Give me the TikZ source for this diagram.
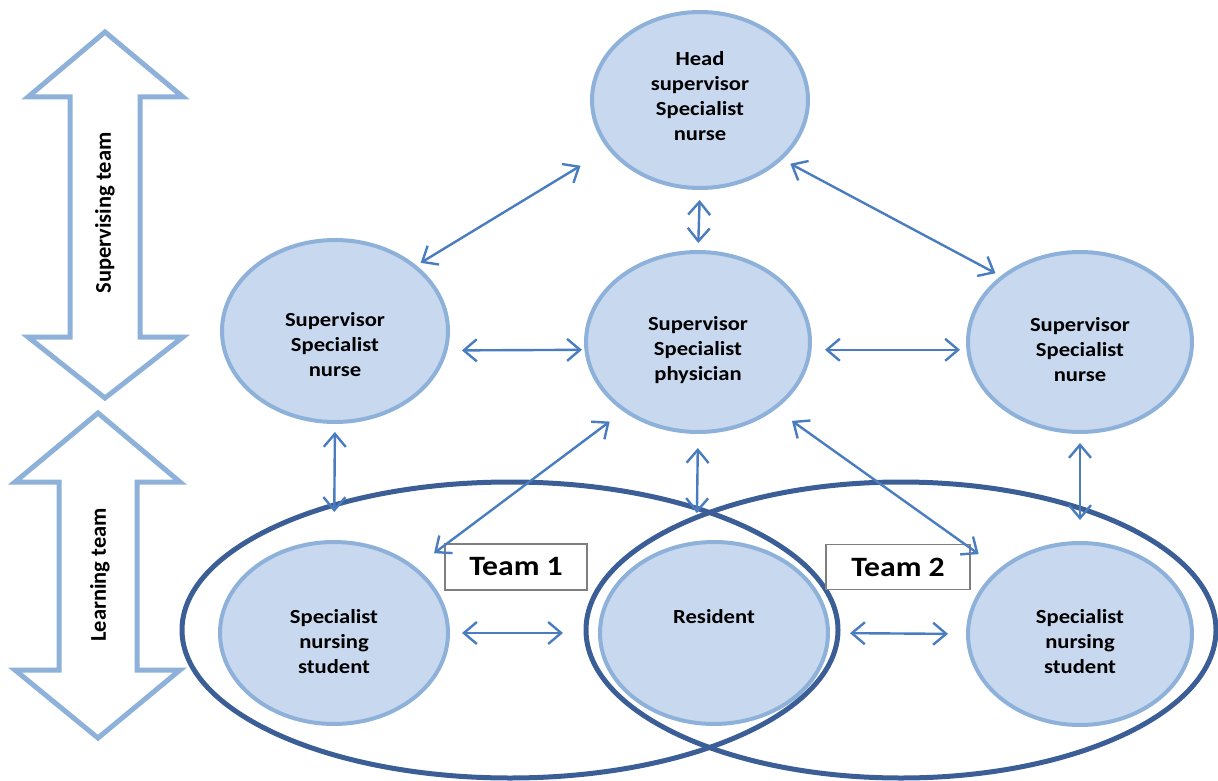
\documentclass[tikz,border=0pt]{standalone}
\usepackage{fontspec}
\setmainfont{Carlito}
\newfontfamily\widefont[FakeStretch=1.13]{Carlito}
\usetikzlibrary{arrows.meta,shapes.geometric}
\definecolor{efill}{HTML}{C7D8EF}
\definecolor{eline}{HTML}{8EB1DA}
\definecolor{tline}{HTML}{3B5E96}
\definecolor{aline}{HTML}{4A7CC0}
\definecolor{bline}{HTML}{7F7F7F}
\begin{document}
\begin{tikzpicture}[x=1pt,y=-1pt,
  role/.style={ellipse, draw=eline, fill=efill, line width=4pt, inner sep=0pt, outer sep=0pt},
  rtext/.style={font=\widefont\fontsize{20}{25}\selectfont\bfseries, align=center, text=black, inner sep=0pt},
  team/.style={ellipse, draw=tline, line width=5pt, inner sep=0pt, outer sep=0pt},
  conn/.style={draw=aline, line width=2.4pt, {Straight Barb[length=13pt,width=22pt]}-{Straight Barb[length=13pt,width=22pt]}},
  teambox/.style={draw=bline, fill=white, line width=1.5pt, minimum width=142pt, minimum height=46pt, inner sep=0pt, font=\widefont\fontsize{28}{32}\selectfont\bfseries},
  sidearrow/.style={draw=eline, fill=white, line width=5pt, line join=miter},
  sidetext/.style={font=\fontsize{22.5}{26}\selectfont\bfseries, rotate=90, inner sep=0pt}
]
\useasboundingbox (0,0) rectangle (1218,781);

% side double arrows
\draw[sidearrow] (105,32) -- (183,97) -- (140,97) -- (140,337) -- (183,337) -- (105,398) -- (28,337) -- (70,337) -- (70,97) -- (28,97) -- cycle;
\draw[sidearrow] (98,413) -- (180,482) -- (137,482) -- (137,670) -- (180,670) -- (98,738) -- (15,670) -- (59,670) -- (59,482) -- (15,482) -- cycle;
\node[sidetext] (supLbl) at (105,213) {Supervising team};
\node[sidetext] (lrnLbl) at (100,575) {Learning team};

% role ellipses
\node[role, minimum width=216pt, minimum height=176pt] (head) at (700,100) {};
\node[role, minimum width=226pt, minimum height=182pt] (supL) at (335,331) {};
\node[role, minimum width=224pt, minimum height=180pt] (phys) at (698,342) {};
\node[role, minimum width=224pt, minimum height=180pt] (supR) at (1080,342) {};
\node[role, minimum width=228pt, minimum height=182pt] (stuL) at (334,633) {};
\node[role, minimum width=228pt, minimum height=182pt] (res) at (714,633) {};
\node[role, minimum width=224pt, minimum height=182pt] (stuR) at (1080,634) {};

% team ellipses
\node[team, minimum width=656pt, minimum height=296pt] (team1) at (510,630) {};
\node[team, minimum width=630pt, minimum height=296pt] (team2) at (901,630) {};

% texts
\node[rtext] (headT) at (700,96) {Head\\supervisor\\Specialist\\nurse};
\node[rtext] (supLT) at (335,345) {Supervisor\\Specialist\\nurse};
\node[rtext] (physT) at (698,350) {Supervisor\\Specialist\\physician};
\node[rtext] (supRT) at (1080,350) {Supervisor\\Specialist\\nurse};
\node[rtext] (stuLT) at (334,642) {Specialist\\nursing\\student};
\node[rtext] (resT) at (714,617) {Resident};
\node[rtext] (stuRT) at (1080,642) {Specialist\\nursing\\student};

% team boxes
\node[teambox] (t1) at (516,567) {Team 1};
\node[teambox, minimum width=144pt, minimum height=45pt] (t2) at (898,567) {Team 2};

% connectors
\draw[conn, shorten <=7pt, shorten >=34pt] (supL.39) -- (head.208);
\draw[conn, shorten <=11pt, shorten >=8pt] (head.324) -- (supR.140);
\draw[conn, shorten <=12pt, shorten >=9pt] (head.south) -- (phys.north);
\draw[conn, shorten <=16.5pt, shorten >=4.5pt] (supL.350) -- (phys.184);
\draw[conn, shorten <=15.4pt, shorten >=8.4pt] (phys.356) -- (supR.184);
\draw[conn, shorten <=10pt, shorten >=30pt] (supL.south) -- (stuL.north);
\draw[conn, shorten <=19pt, shorten >=25pt] (phys.223) -- (stuL.39);
\draw[conn, shorten <=16pt, shorten >=30pt] (phys.south) -- (res.101);
\draw[conn, shorten <=22pt, shorten >=27pt] (phys.319) -- (stuR.141);
\draw[conn, shorten <=11pt, shorten >=23pt] (supR.south) -- (stuR.north);
\draw[conn, shorten <=14pt, shorten >=37pt] (stuL.east) -- (res.west);
\draw[conn, shorten <=22pt, shorten >=20pt] (res.east) -- (stuR.west);
\end{tikzpicture}
\end{document}
